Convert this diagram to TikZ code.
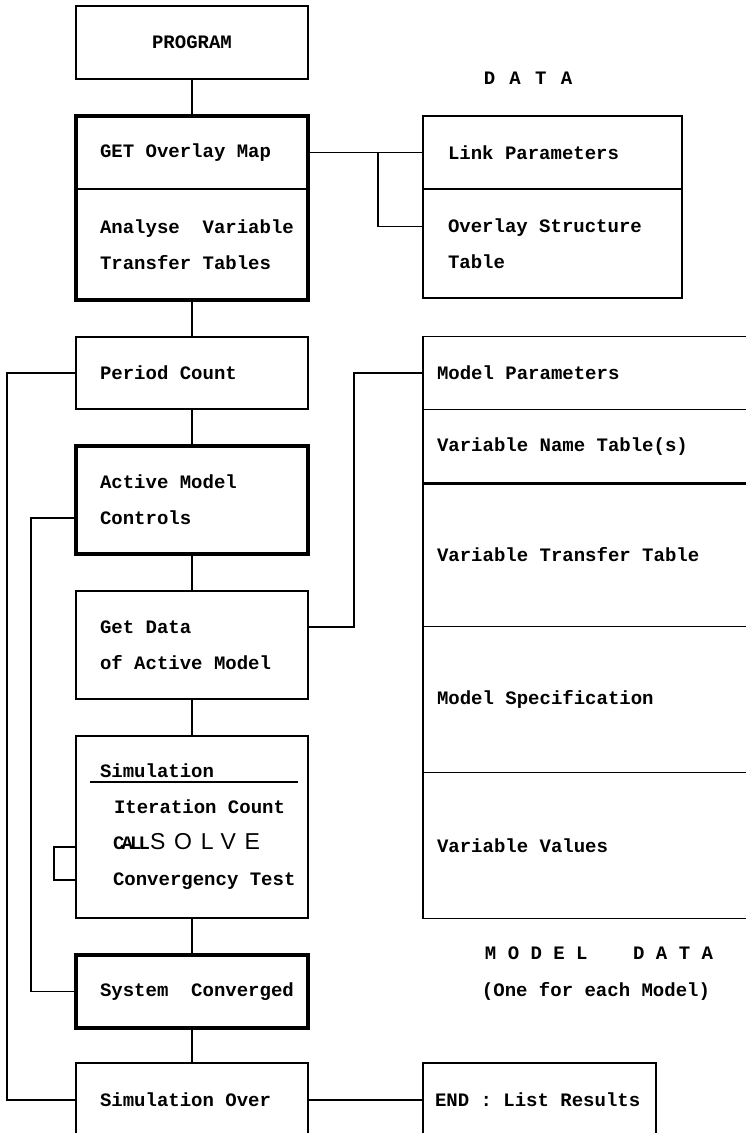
\documentclass[tikz,border=0pt]{standalone}
\usepackage{fontspec}
\usetikzlibrary{positioning}
\newfontfamily\plotfont{Liberation Mono}[WordSpace={1,0,0}, HyphenChar=None]
\newfontfamily\callfont{Liberation Mono}[LetterSpace=-15, HyphenChar=None]
\newfontfamily\solvefont{Liberation Sans}[LetterSpace=38, HyphenChar=None]
\newfontfamily\headfont{Liberation Mono}[LetterSpace=75]

\begin{document}
\begin{tikzpicture}[
  x=1pt, y=-1pt,
  font=\plotfont\bfseries\fontsize{19}{36}\selectfont,
  every node/.style={execute at begin node={\spaceskip=0.6em\xspaceskip=0.6em\relax}},
  box/.style={draw, line width=1.6pt, outer sep=0pt, minimum width=232pt,
    text width=184pt, inner xsep=24pt, inner ysep=0pt, align=left},
  bold box/.style={box, line width=3.2pt},
  data/.style={draw, line width=1.6pt, outer sep=0pt, inner ysep=0pt, align=left},
  row/.style={data, minimum width=340pt, text width=312pt, inner xsep=14pt},
  wire/.style={line width=1.4pt},
  plain/.style={inner sep=0pt}
]
  \useasboundingbox (0,0) rectangle (746,1133);
  \clip (0,0) rectangle (746,1133);

  % --- Program flow ---
  \node[box, align=center, minimum height=73pt] (program) at (192,42.5) {PROGRAM};
  \node[box, minimum height=73pt, below=37pt of program] (getmap) {GET Overlay Map};
  \node[box, minimum height=111pt, below=0pt of getmap] (analyse)
    {Analyse~~Variable\\Transfer Tables};
  \node[box, minimum height=72pt, below=37pt of analyse] (period) {Period Count};
  \node[bold box, minimum height=108pt, below=37pt of period] (active)
    {Active Model\\Controls};
  \node[box, minimum height=108pt, below=37pt of active] (getdata)
    {Get Data\\of Active Model};
  \node[box, minimum height=182pt, below=37pt of getdata] (sim)
    {Simulation\\
     \hspace*{14pt}Iteration~Count\\
     \hspace*{13pt}{\callfont CALL}{\solvefont\mdseries\fontsize{23}{36}\selectfont SOLVE}\\
     \hspace*{13pt}Convergency~Test};
  \node[bold box, minimum height=73pt, below=37pt of sim] (conv) {System~~Converged};
  \node[box, minimum height=74pt, below=35pt of conv] (simover) {Simulation Over};

  % --- Data ---
  \node[data, minimum width=259pt, text width=209pt, inner xsep=25pt, minimum height=73pt,
    right=115pt of getmap] (linkpar) {Link Parameters};
  \node[data, minimum width=259pt, text width=209pt, inner xsep=25pt, minimum height=109pt,
    below=0pt of linkpar] (ovstruct) {Overlay Structure\\Table};
  \node[plain, font=\headfont\bfseries\fontsize{19}{36}\selectfont] (datahead) at (528,78) {DATA};

  % --- Model data ---
  \node[row, minimum height=73pt, right=115pt of period] (modpar) {Model Parameters};
  \node[row, minimum height=74pt, below=0pt of modpar] (varname) {Variable Name Table(s)};
  \node[row, minimum height=143pt, below=0pt of varname] (vartrans) {Variable Transfer Table};
  \node[row, minimum height=146pt, below=0pt of vartrans] (modspec) {Model Specification};
  \node[row, minimum height=146pt, below=0pt of modspec] (varval) {Variable Values};
  \node[plain] (modelhead) at (599,953) {M O D E L\ \ \ \ D A T A};
  \node[plain] (modelnote) at (596,991) {(One for each Model)};

  \node[data, minimum width=233pt, text width=209pt, inner xsep=12pt, minimum height=74pt,
    right=115pt of simover] (endres) {END~:~List~Results};

  % --- Frames and rules ---
  \draw[line width=3.2pt] (getmap.north west) rectangle (analyse.south east);
  \draw[line width=2.6pt] (varname.south west) -- (varname.south east);
  \draw[line width=1.4pt] ([xshift=14pt,yshift=-46pt]sim.north west)
    -- ([xshift=-10pt,yshift=-46pt]sim.north east);

  % --- Connectors ---
  \foreach \a/\b in {program/getmap, analyse/period, period/active, active/getdata,
    getdata/sim, sim/conv, conv/simover}
    \draw[wire] (\a) -- (\b);
  \draw[wire] (getmap) -- (linkpar);
  \draw[wire] ([xshift=70pt]getmap.east) |- ([yshift=17pt]ovstruct.west);
  \draw[wire] ([yshift=18pt]getdata.east) -- ++(46pt,0) |- (modpar.west);
  \draw[wire] (period.west) -- ++(-69pt,0) |- (simover.west);
  \draw[wire] ([yshift=-18pt]active.west) -- ++(-45pt,0) |- (conv.west);
  \draw[wire] ([yshift=-20pt]sim.west) -- ++(-22pt,0) |- ([yshift=-53pt]sim.west);
  \draw[wire] (simover) -- (endres);
\end{tikzpicture}
\end{document}
